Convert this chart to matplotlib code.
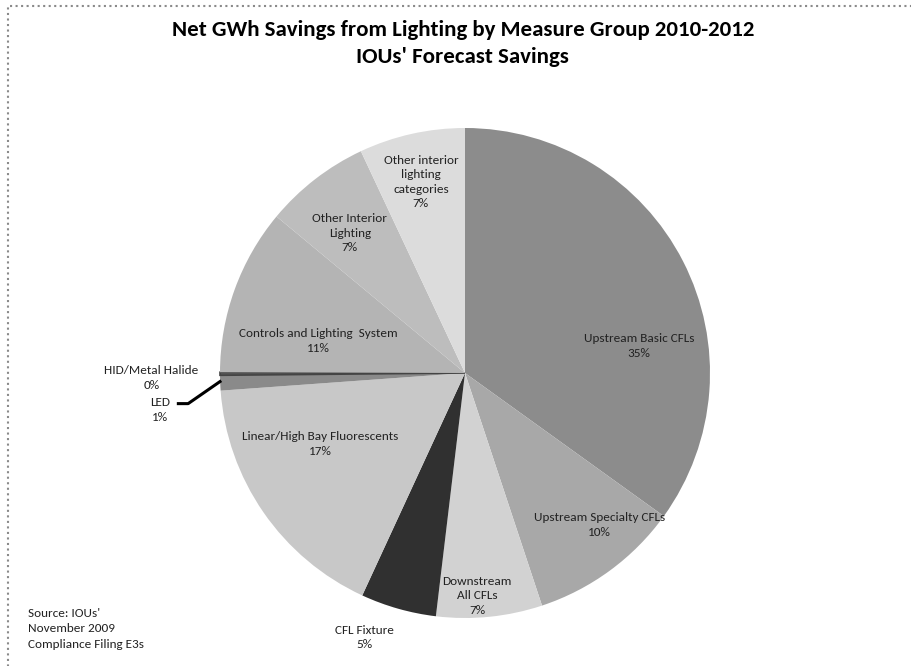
import matplotlib.pyplot as plt
import matplotlib.patches as mpatches
import numpy as np

plt.rcParams['font.family'] = ['Carlito', 'Open Sans', 'DejaVu Sans']

# data, clockwise from 12 o'clock
groups = ['Upstream Basic CFLs', 'Upstream Specialty CFLs', 'Downstream\nAll CFLs',
          'CFL Fixture', 'Linear/High Bay Fluorescents', 'LED', 'HID/Metal Halide',
          'Controls and Lighting  System', 'Other Interior\nLighting',
          'Other interior\nlighting\ncategories']
savings = [35, 10, 7, 5, 17, 1, 0.2, 11, 7, 7]
shades = ['#8c8c8c', '#a8a8a8', '#d2d2d2', '#303030', '#c8c8c8', '#8a8a8a',
          '#555555', '#b4b4b4', '#bdbdbd', '#dcdcdc']
# label positions (in pie-radius units)
label_xy = [(0.71, 0.11), (0.55, -0.62), (0.05, -0.91), (-0.41, -1.08),
            (-0.59, -0.29), (-1.245, -0.15), (-1.28, -0.02), (-0.60, 0.13),
            (-0.47, 0.57), (-0.18, 0.78)]

fig = plt.figure(figsize=(9.11, 6.66), dpi=100)
ax = fig.add_axes([220 / 911, 48 / 666, 490 / 911, 490 / 666])

wedges, _ = ax.pie(savings, colors=shades, startangle=90, counterclock=False,
                   radius=1, wedgeprops=dict(linewidth=0))
wedges[6].set_edgecolor('#444444')
wedges[6].set_linewidth(1.2)
ax.set_xlim(-1, 1)
ax.set_ylim(-1, 1)
ax.set_aspect('equal')
ax.axis('off')

total = sum(savings)
for name, v, (x, y) in zip(groups, savings, label_xy):
    ax.text(x, y, f'{name}\n{v / total * 100:.0f}%', ha='center', va='center',
            fontsize=9.5, color='#222222', linespacing=1.4)

# LED leader line
ax.plot([-1.17, -1.13, -1.0], [-0.125, -0.125, -0.035], color='black', lw=2.2,
        clip_on=False)

fig.text(0.508, 0.955, 'Net GWh Savings from Lighting by Measure Group 2010-2012',
         ha='center', va='center', fontsize=16.5, fontweight='bold')
fig.text(0.508, 0.914, "IOUs' Forecast Savings", ha='center', va='center',
         fontsize=16.5, fontweight='bold')

fig.text(28 / 911, 1 - 629 / 666, "Source: IOUs'\nNovember 2009\nCompliance Filing E3s",
         ha='left', va='center', fontsize=9.5, linespacing=1.55, color='#222222')

fig.patches.append(mpatches.Rectangle((8 / 911, -0.1), 1.2, 1 - 6 / 666 + 0.1,
                                      transform=fig.transFigure, fill=False,
                                      edgecolor='#8a8a8a', linestyle=':', lw=1.5))

plt.savefig('out.png', dpi=100)
